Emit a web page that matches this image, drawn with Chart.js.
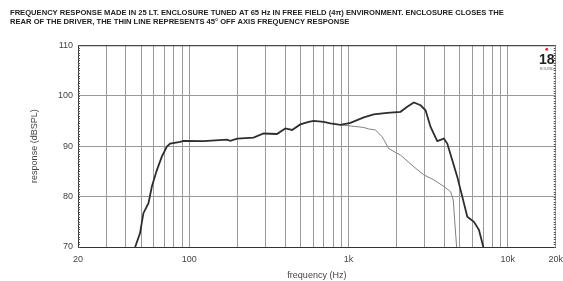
<!DOCTYPE html>
<html>
<head>
<meta charset="utf-8">
<script src="https://cdn.jsdelivr.net/npm/chart.js@4/dist/chart.umd.min.js"></script>
<style>
html,body{margin:0;padding:0;background:#fff;}
canvas{display:block;}
</style>
</head>
<body>
<canvas id="c" width="563" height="281"></canvas>
<script>
const titleLines = [
  'FREQUENCY RESPONSE MADE IN 25 LT. ENCLOSURE TUNED AT 65 Hz IN FREE FIELD (4\u03C0) ENVIRONMENT. ENCLOSURE CLOSES THE',
  'REAR OF THE DRIVER, THE THIN LINE REPRESENTS 45\u00B0 OFF AXIS FREQUENCY RESPONSE'
];
const xAxisTitle = 'frequency (Hz)';
const yAxisTitle = 'response (dBSPL)';
const xTickValues = [20,30,40,50,60,70,80,90,100,200,300,400,500,600,700,800,900,1000,2000,3000,4000,5000,6000,7000,8000,9000,10000,20000];
const xLabelValues = [20,100,1000,10000,20000];
const xLabelTexts = ['20','100','1k','10k','20k'];
const yTickValues = [70,80,90,100,110];

// on-axis response (thick line)
const mainFreq = [45.7,49,51.5,55.4,58.2,62.5,67.2,72.3,75.8,87.6,92,123,172,181,200,253,293,355,401,442,498,562,604,698,769,889,1028,1246,1439,1748,2120,2336,2570,2832,3044,3274,3606,3968,4168,4818,5568,6124,6586,7018];
const mainDb   = [70,72.7,76.7,78.7,82,85.2,87.9,89.9,90.5,90.85,91.05,91,91.3,91.05,91.5,91.7,92.5,92.4,93.5,93.2,94.3,94.8,95.0,94.8,94.5,94.2,94.6,95.7,96.3,96.6,96.8,97.8,98.65,98.1,97.1,93.8,91,91.5,90.5,83.9,76,75,73.4,70];
// 45° off-axis response (thin line)
const offFreq = [889,1028,1246,1339,1476,1626,1789,2120,2570,2970,3432,3968,4372,4546,4634,4770];
const offDb   = [94.2,94.0,93.7,93.4,93.2,91.85,89.5,88.2,85.9,84.3,83.3,82,80.95,79.3,75.4,70];

const FONT = 'Liberation Sans, Arial, sans-serif';

const framePlugin = {
  id: 'frame',
  afterDraw(chart) {
    const {ctx, chartArea: a} = chart;
    const y = chart.scales.y;
    ctx.save();
    ctx.strokeStyle = '#333';
    ctx.lineWidth = 1;
    ctx.beginPath();
    ctx.moveTo(a.left, a.top + 0.5);
    ctx.lineTo(a.right, a.top + 0.5);
    ctx.stroke();
    // minor ticks on left and right edges
    ctx.strokeStyle = '#555';
    ctx.beginPath();
    for (let v = y.min; v <= y.max + 1e-9; v += 0.5) {
      const py = Math.round(y.getPixelForValue(v)) + 0.5;
      ctx.moveTo(a.left, py); ctx.lineTo(a.left + 2, py);
      ctx.moveTo(a.right - 2, py); ctx.lineTo(a.right, py);
    }
    ctx.stroke();
    // logo
    const lx = a.right - 9;
    ctx.fillStyle = '#e0303a';
    ctx.beginPath();
    ctx.arc(lx, a.top + 4, 1.5, 0, Math.PI * 2);
    ctx.fill();
    ctx.fillStyle = '#222';
    ctx.textAlign = 'center';
    ctx.textBaseline = 'middle';
    ctx.font = 'bold 14px "Liberation Sans Narrow", ' + FONT;
    ctx.fillText('18', lx, a.top + 15);
    ctx.font = '4px ' + FONT;
    ctx.fillStyle = '#666';
    ctx.fillText('SOUND', lx, a.top + 24);
    ctx.restore();
  }
};

new Chart(document.getElementById('c'), {
  type: 'line',
  data: {
    datasets: [
      {
        data: mainFreq.map((f, i) => ({x: f, y: mainDb[i]})),
        borderColor: '#2e2e2e',
        borderWidth: 1.8,
        pointRadius: 0,
        tension: 0,
        fill: false
      },
      {
        data: offFreq.map((f, i) => ({x: f, y: offDb[i]})),
        borderColor: '#808080',
        borderWidth: 1,
        pointRadius: 0,
        tension: 0,
        fill: false
      }
    ]
  },
  options: {
    responsive: false,
    animation: false,
    devicePixelRatio: 1,
    layout: {padding: {left: 10, right: 1, top: 0, bottom: 0}},
    plugins: {
      legend: {display: false},
      tooltip: {enabled: false},
      title: {
        display: true,
        text: titleLines,
        align: 'start',
        color: '#222',
        font: {family: FONT, size: 7.6, weight: 'bold', lineHeight: 1.2},
        padding: {top: 8.5, bottom: 18.5}
      }
    },
    scales: {
      x: {
        type: 'logarithmic',
        min: 20,
        max: 20000,
        afterBuildTicks(scale) {
          scale.ticks = xTickValues.map(v => ({value: v}));
        },
        afterFit(scale) { scale.height = 34; },
        ticks: {
          autoSkip: false,
          maxRotation: 0,
          minRotation: 0,
          padding: 0,
          color: '#444',
          font: {family: FONT, size: 9},
          callback(v) {
            const i = xLabelValues.indexOf(v);
            return i >= 0 ? xLabelTexts[i] : '';
          }
        },
        grid: {color: '#9a9a9a', lineWidth: 1, drawTicks: true, tickLength: 7, tickColor: 'rgba(0,0,0,0)'},
        border: {display: true, color: '#333', width: 1},
        title: {
          display: true,
          text: xAxisTitle,
          color: '#444',
          font: {family: FONT, size: 9},
          padding: {top: 0, bottom: 0}
        }
      },
      y: {
        min: 70,
        max: 110,
        afterBuildTicks(scale) {
          scale.ticks = yTickValues.map(v => ({value: v}));
        },
        afterFit(scale) { scale.width = 68; },
        ticks: {
          padding: 5,
          color: '#444',
          font: {family: FONT, size: 9}
        },
        grid: {color: '#9a9a9a', lineWidth: 1, drawTicks: false},
        border: {display: true, color: '#333', width: 1},
        title: {
          display: true,
          text: yAxisTitle,
          color: '#444',
          font: {family: FONT, size: 9},
          padding: {top: 19, bottom: 0}
        }
      }
    }
  },
  plugins: [framePlugin]
});
</script>
</body>
</html>
